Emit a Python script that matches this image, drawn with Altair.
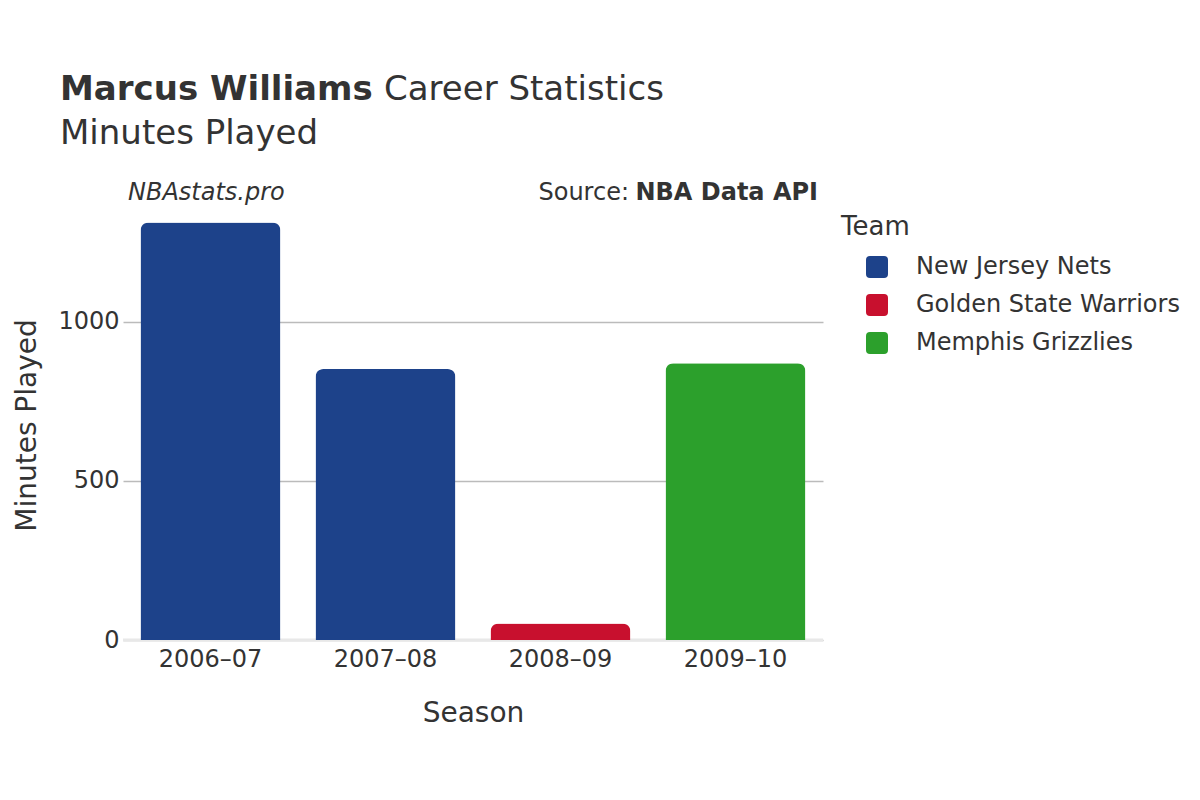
import altair as alt
import pandas as pd

seasons = ["2006–07", "2007–08", "2008–09", "2009–10"]
minutes = [1313, 852, 52, 870]
teams = ["New Jersey Nets", "New Jersey Nets", "Golden State Warriors", "Memphis Grizzlies"]

team_order = ["New Jersey Nets", "Golden State Warriors", "Memphis Grizzlies"]
team_colors = ["#1D428A", "#C8102E", "#2CA02C"]

title_bold = "Marcus Williams"
title_rest = "Career Statistics"
subtitle = "Minutes Played"
credit = "NBAstats.pro"
source_label = "Source:"
source_name = "NBA Data API"

FONT = "DejaVu Sans"
TXT = "#333333"

df = pd.DataFrame({"Season": seasons, "Minutes": minutes, "Team": teams})

rounded = "M -0.64 -1 L 0.64 -1 Q 1 -1 1 -0.64 L 1 0.64 Q 1 1 0.64 1 L -0.64 1 Q -1 1 -1 0.64 L -1 -0.64 Q -1 -1 -0.64 -1 Z"

bars = alt.Chart(df).mark_bar(cornerRadiusTopLeft=8, cornerRadiusTopRight=8).encode(
    x=alt.X("Season:N", sort=seasons, title="Season",
            scale=alt.Scale(paddingInner=0.2, paddingOuter=0.1),
            axis=alt.Axis(labelAngle=0, labelFontSize=24, titleFontSize=28,
                          labelPadding=7, titlePadding=28, ticks=False,
                          domain=False, labelColor=TXT, titleColor=TXT,
                          titleFontWeight="normal")),
    y=alt.Y("Minutes:Q", title="Minutes Played",
            scale=alt.Scale(domain=[0, 1352], nice=False),
            axis=alt.Axis(values=[0, 500, 1000], format="d", labelFontSize=24,
                          titleFontSize=28, ticks=False, domain=False, labelPadding=4,
                          titlePadding=16, gridColor="#bbbbbb", gridWidth=1.5,
                          labelColor=TXT, titleColor=TXT, titleFontWeight="normal")),
    color=alt.Color("Team:N", sort=team_order,
                    scale=alt.Scale(domain=team_order, range=team_colors),
                    legend=alt.Legend(title="Team", orient="right", symbolType=rounded,
                                      symbolSize=484, symbolStrokeWidth=0,
                                      symbolOffset=24, labelOffset=27,
                                      labelFontSize=24, titleFontSize=26,
                                      titleFontWeight="normal", titleColor=TXT,
                                      labelColor=TXT, rowPadding=14, titlePadding=15,
                                      padding=4, offset=14, labelLimit=400)),
)

zero = alt.Chart(pd.DataFrame({"z": [0]})).mark_rule(color="#e8e8e8", strokeWidth=3).encode(
    y="z:Q"
)

def txt(text, x, y, size, weight="normal", style="normal", align="left"):
    return alt.Chart(pd.DataFrame({"t": [text]})).mark_text(
        align=align, baseline="alphabetic", fontSize=size, fontWeight=weight,
        fontStyle=style, color=TXT, font=FONT
    ).encode(text="t:N", x=alt.value(x), y=alt.value(y))

t1 = txt(title_bold, -63, -110, 34, weight="bold")
t2 = txt(title_rest, 261, -110, 34)
t3 = txt(subtitle, -63, -66, 34)
t4 = txt(credit, 5, -10, 24, style="italic")
t5 = txt(source_label, 506, -10, 24, align="right")
t6 = txt(source_name, 695, -10, 24, weight="bold", align="right")

chart = alt.layer(zero, bars, t1, t2, t3, t4, t5, t6).properties(
    width=700, height=430,
    autosize=alt.AutoSizeParams(type="none"),
    padding={"left": 115, "top": 202, "right": 362, "bottom": 145},
).configure(font=FONT).configure_view(stroke=None)

chart.save("out.html", embed_options={"renderer": "svg", "actions": False})
